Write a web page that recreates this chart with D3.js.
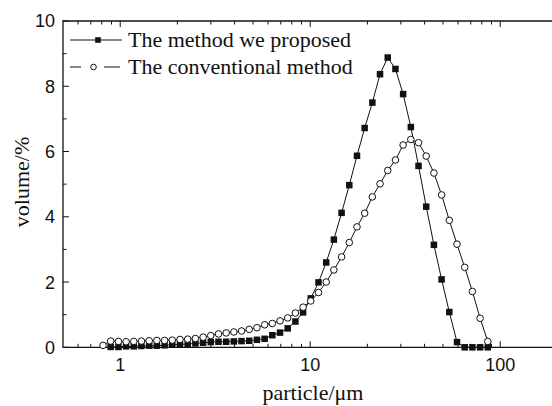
<!DOCTYPE html>
<html>
<head>
<meta charset="utf-8">
<script src="https://cdn.jsdelivr.net/npm/d3@7/dist/d3.min.js"></script>
<style>
  html, body { margin: 0; padding: 0; background: #fff; }
  svg { display: block; }
  .sans { font-family: "Liberation Sans", Arial, Helvetica, sans-serif; }
  .serif { font-family: "Liberation Serif", "Times New Roman", Times, serif; }
</style>
</head>
<body>
<div id="chart"></div>
<script>
// Particle size bins (µm)
const sizes = [0.812, 0.891, 0.979, 1.074, 1.179, 1.294, 1.421, 1.560, 1.713, 1.880,
  2.064, 2.266, 2.487, 2.731, 2.997, 3.290, 3.612, 3.965, 4.352, 4.777,
  5.244, 5.757, 6.319, 6.937, 7.615, 8.359, 9.176, 10.07, 11.06, 12.14,
  13.32, 14.63, 16.06, 17.63, 19.35, 21.24, 23.31, 25.59, 28.10, 30.84,
  33.86, 37.17, 40.80, 44.79, 49.17, 53.97, 59.25, 65.04, 71.40, 78.38, 86.04];

// "The method we proposed" (null = no point)
const proposed = [null, 0.01, 0.01, 0.03, 0.03, 0.04, 0.05, 0.05, 0.06, 0.08,
  0.09, 0.10, 0.12, 0.14, 0.16, 0.17, 0.17, 0.18, 0.19, 0.20,
  0.23, 0.26, 0.37, 0.45, 0.58, 0.79, 1.07, 1.50, 1.99, 2.60,
  3.30, 4.12, 4.97, 5.87, 6.72, 7.50, 8.37, 8.88, 8.53, 7.76,
  6.75, 5.56, 4.31, 3.14, 2.08, 1.08, 0.16, 0, 0, 0, 0];

// "The conventional method"
const conventional = [0.06, 0.19, 0.18, 0.17, 0.18, 0.19, 0.20, 0.21, 0.21, 0.22,
  0.24, 0.25, 0.27, 0.31, 0.36, 0.41, 0.44, 0.47, 0.50, 0.55,
  0.60, 0.69, 0.73, 0.81, 0.90, 1.05, 1.23, 1.42, 1.68, 2.00,
  2.37, 2.77, 3.21, 3.69, 4.11, 4.61, 5.01, 5.42, 5.74, 6.20,
  6.37, 6.27, 5.86, 5.34, 4.67, 3.89, 3.16, 2.45, 1.71, 0.89, 0.18];

const seriesNames = ["The method we proposed", "The conventional method"];
const xMajorTicks = [1, 10, 100];
const xMinorTicks = [0.6, 0.7, 0.8, 0.9, 2, 3, 4, 5, 6, 7, 8, 9, 20, 30, 40, 50, 60, 70, 80, 90];
const yMajorTicks = [0, 2, 4, 6, 8, 10];
const yMinorTicks = [1, 3, 5, 7, 9];
const xTitle = "particle/\u03bcm";
const yTitle = "volume/%";

const W = 552, H = 406;
const svg = d3.select("#chart").append("svg").attr("width", W).attr("height", H);

const x = d3.scaleLog().domain([0.5, 200]).range([63, 63 + 190 * Math.log10(400)]);
const y = d3.scaleLinear().domain([0, 10]).range([347.3, 21]);

const x0 = x.range()[0], x1 = x.range()[1];
const yb = y(0), yt = y(10);

const axisG = svg.append("g");
const axisColor = "#111";

// Axis lines
axisG.append("line").attr("x1", x0).attr("x2", x1).attr("y1", yb).attr("y2", yb)
  .attr("stroke", axisColor).attr("stroke-width", 1.3);
axisG.append("line").attr("x1", x0).attr("x2", x1).attr("y1", yt).attr("y2", yt)
  .attr("stroke", axisColor).attr("stroke-width", 1.3);
axisG.append("line").attr("x1", x0).attr("x2", x0).attr("y1", yb + 0.65).attr("y2", yt - 0.65)
  .attr("stroke", axisColor).attr("stroke-width", 1.3);

// X ticks (inward, bottom and top)
const major = 6, minor = 3.5;
xMajorTicks.forEach(t => {
  axisG.append("line").attr("x1", x(t)).attr("x2", x(t)).attr("y1", yb).attr("y2", yb - major)
    .attr("stroke", axisColor).attr("stroke-width", 1);
  axisG.append("line").attr("x1", x(t)).attr("x2", x(t)).attr("y1", yt).attr("y2", yt + major)
    .attr("stroke", axisColor).attr("stroke-width", 1);
  axisG.append("text").attr("class", "sans").attr("x", x(t)).attr("y", 371).attr("text-anchor", "middle")
    .attr("font-size", 18).attr("fill", "#111").text(d3.format("d")(t));
});
xMinorTicks.forEach(t => {
  axisG.append("line").attr("x1", x(t)).attr("x2", x(t)).attr("y1", yb).attr("y2", yb - minor)
    .attr("stroke", axisColor).attr("stroke-width", 1);
  axisG.append("line").attr("x1", x(t)).attr("x2", x(t)).attr("y1", yt).attr("y2", yt + minor)
    .attr("stroke", axisColor).attr("stroke-width", 1);
});

// Y ticks (inward)
yMajorTicks.forEach(t => {
  axisG.append("line").attr("x1", x0).attr("x2", x0 + major).attr("y1", y(t)).attr("y2", y(t))
    .attr("stroke", axisColor).attr("stroke-width", 1);
  axisG.append("text").attr("class", "sans").attr("x", 55).attr("y", y(t)).attr("dy", "0.36em")
    .attr("text-anchor", "end").attr("font-size", 18).attr("fill", "#111").text(t);
});
yMinorTicks.forEach(t => {
  axisG.append("line").attr("x1", x0).attr("x2", x0 + minor).attr("y1", y(t)).attr("y2", y(t))
    .attr("stroke", axisColor).attr("stroke-width", 1);
});

// Axis titles
svg.append("text").attr("class", "serif").attr("x", 313).attr("y", 400).attr("text-anchor", "middle")
  .attr("font-size", 22).attr("fill", "#111").text(xTitle);
svg.append("text").attr("class", "serif").attr("transform", "translate(28.5,182) rotate(-90)")
  .attr("text-anchor", "middle").attr("font-size", 22).attr("fill", "#111").text(yTitle);

// Data
const dataP = sizes.map((s, i) => ({ s, v: proposed[i] })).filter(d => d.v !== null);
const dataC = sizes.map((s, i) => ({ s, v: conventional[i] }));

const line = d3.line().x(d => x(d.s)).y(d => y(d.v));

const plot = svg.append("g");
plot.append("path").datum(dataP).attr("d", line).attr("fill", "none")
  .attr("stroke", "#111").attr("stroke-width", 1);
plot.append("path").datum(dataC).attr("d", line).attr("fill", "none")
  .attr("stroke", "#111").attr("stroke-width", 1);

const sq = 6.5;
plot.selectAll("rect.p").data(dataP).enter().append("rect").attr("class", "p")
  .attr("x", d => x(d.s) - sq / 2).attr("y", d => y(d.v) - sq / 2)
  .attr("width", sq).attr("height", sq).attr("fill", "#111");

plot.selectAll("circle.c").data(dataC).enter().append("circle").attr("class", "c")
  .attr("cx", d => x(d.s)).attr("cy", d => y(d.v)).attr("r", 3.3)
  .attr("fill", "#fff").attr("stroke", "#111").attr("stroke-width", 1);

// Legend
const lg = svg.append("g");
lg.append("line").attr("x1", 70).attr("x2", 122).attr("y1", 40).attr("y2", 40)
  .attr("stroke", "#111").attr("stroke-width", 1);
lg.append("rect").attr("x", 98 - 2.8).attr("y", 40 - 2.8).attr("width", 5.6).attr("height", 5.6).attr("fill", "#111");
lg.append("text").attr("class", "serif").attr("x", 128).attr("y", 46.5)
  .attr("font-size", 22).attr("fill", "#111").text(seriesNames[0]);

lg.append("line").attr("x1", 70).attr("x2", 81).attr("y1", 67).attr("y2", 67)
  .attr("stroke", "#111").attr("stroke-width", 1);
lg.append("line").attr("x1", 104).attr("x2", 120).attr("y1", 67).attr("y2", 67)
  .attr("stroke", "#111").attr("stroke-width", 1);
lg.append("circle").attr("cx", 93.5).attr("cy", 67).attr("r", 2.8)
  .attr("fill", "#fff").attr("stroke", "#111").attr("stroke-width", 1);
lg.append("text").attr("class", "serif").attr("x", 128).attr("y", 73.5)
  .attr("font-size", 22).attr("fill", "#111").text(seriesNames[1]);
</script>
</body>
</html>
